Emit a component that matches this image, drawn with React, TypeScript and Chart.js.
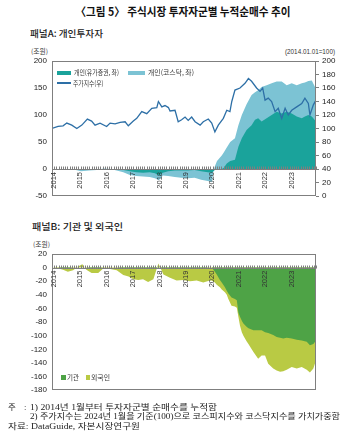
import React, { useEffect, useRef } from 'react';
import { Chart, registerables } from 'chart.js';

Chart.register(...registerables);

// ---------------- DATA ----------------
// Panel A: individual investors, cumulative net purchase (조원)
const aDates = [2014.0, 2014.3, 2014.6, 2014.9, 2015.1, 2015.4, 2015.7, 2015.95, 2016.2, 2016.45, 2016.7, 2016.95, 2017.2, 2017.45, 2017.7, 2017.9, 2018.05, 2018.2, 2018.4, 2018.65, 2018.9, 2019.15, 2019.4, 2019.65, 2019.9, 2020.06, 2020.11, 2020.17, 2020.25, 2020.43, 2020.5, 2020.62, 2020.75, 2020.93, 2021.06, 2021.19, 2021.37, 2021.56, 2021.69, 2021.81, 2021.94, 2022.13, 2022.32, 2022.51, 2022.7, 2022.89, 2023.08, 2023.27, 2023.46, 2023.58, 2023.71, 2023.84, 2024.0];
const indivKospi = [0, 0, -1, -1, -1, -1, -1, 0, 0, -1, -2, -4, -6, -7, -6, -8, -12, -7, -4, -3, -3, -3, -2, -4, -6, -7, -4, -2, -1, 0, 2, 10, 15, 17, 41, 57, 72, 81, 91, 94, 88, 94, 100, 106, 103, 106, 103, 97, 94, 97, 100, 97, 88];
const indivKosdaq = [0, -1, 0, -1, -3, -2, -1, 1, 0, -2, -4, -7, -7, -7, -9, -9, -9, -5, -9, -12, -13, -14, -14, -16, -16, -17, -1, 7, 16, 25, 28, 30, 35, 40, 40, 43, 48, 56, 51, 52, 64, 61, 59, 56, 59, 49, 56, 58, 65, 63, 63, 67, 60];

// Stock index (2014.01.01 = 100), right axis
const idxDates = [2014.0, 2014.23, 2014.42, 2014.56, 2014.75, 2014.94, 2015.13, 2015.34, 2015.5, 2015.63, 2015.82, 2016.07, 2016.2, 2016.39, 2016.58, 2016.77, 2016.89, 2017.08, 2017.21, 2017.4, 2017.59, 2017.78, 2017.97, 2018.03, 2018.16, 2018.28, 2018.41, 2018.47, 2018.66, 2018.78, 2018.91, 2019.04, 2019.16, 2019.29, 2019.42, 2019.61, 2019.73, 2019.92, 2020.05, 2020.17, 2020.3, 2020.49, 2020.62, 2020.74, 2020.81, 2020.93, 2021.12, 2021.31, 2021.44, 2021.56, 2021.75, 2021.88, 2021.98, 2022.07, 2022.19, 2022.32, 2022.45, 2022.57, 2022.7, 2022.83, 2022.95, 2023.08, 2023.27, 2023.46, 2023.58, 2023.71, 2023.77, 2023.9, 2024.0];
const idxValues = [100, 103, 104, 108, 105, 100, 105, 114, 111, 105, 108, 103, 108, 107, 109, 110, 104, 111, 115, 125, 122, 130, 131, 140, 132, 134, 131, 126, 127, 110, 113, 117, 112, 117, 110, 105, 110, 114, 108, 95, 105, 115, 127, 125, 140, 157, 160, 167, 174, 170, 160, 155, 160, 142, 145, 140, 125, 130, 115, 130, 120, 127, 132, 137, 145, 137, 120, 135, 142];

// Panel B: institutions and foreigners, cumulative net purchase (조원)
const bDates = [2014.0, 2014.2, 2014.42, 2014.6, 2014.8, 2015.0, 2015.15, 2015.3, 2015.5, 2015.75, 2015.95, 2016.2, 2016.45, 2016.7, 2016.9, 2017.08, 2017.27, 2017.45, 2017.64, 2017.84, 2018.03, 2018.22, 2018.47, 2018.72, 2018.97, 2019.23, 2019.48, 2019.73, 2019.98, 2020.05, 2020.17, 2020.24, 2020.36, 2020.43, 2020.55, 2020.62, 2020.68, 2020.8, 2020.93, 2021.0, 2021.06, 2021.12, 2021.19, 2021.25, 2021.37, 2021.44, 2021.63, 2021.81, 2021.94, 2022.07, 2022.19, 2022.38, 2022.51, 2022.64, 2022.76, 2022.89, 2023.08, 2023.27, 2023.46, 2023.65, 2023.77, 2023.9, 2024.0];
const institution = [0, 0, -1, -1, 0, 0, 0, 0, -1, -1, 0, 0, 0, -1, -1, -1, -2, -2, -2, -2, 0, -1, -1, -2, -2, -2, -1, -1, 0, 0, -6, -10, -18, -22, -29, -34, -38, -44, -46, -48, -66, -72, -78, -82, -87, -89, -92, -92, -92, -95, -96, -99, -102, -103, -104, -103, -104, -106, -107, -109, -114, -112, -107];
const foreigner = [0, -1, -2, -5, -4, 2, 5, -3, -7, -7, -1, -2, -4, -10, -12, -16, -16, -15, -19, -15, 6, -9, -14, -17, -16, -18, -18, -21, -19, -19, -16, -15, -11, -10, -7, -6, -8, -12, -11, -11, -6, -13, -17, -18, -21, -23, -32, -42, -37, -34, -45, -49, -49, -50, -48, -47, -42, -42, -39, -41, -40, -36, -29];

const yearMin = 2014;
const yearMax = 2024;

// ---------------- STYLE ----------------
const KR = '"Noto Sans CJK KR", sans-serif';
const AX = '"Liberation Sans", "Noto Sans CJK KR", sans-serif';
const NOTE = '"Liberation Serif", "Noto Sans CJK KR", serif';
const C_KOSPI = '#1aa39b';
const C_KOSDAQ = '#7cc3d4';
const C_INDEX = '#2d6fa6';
const C_INST = '#4ea346';
const C_FOR = '#b9ca44';
const C_FRAME = '#7f7f7f';

const pts = (xs: number[], ys: number[]) => xs.map((x, i) => ({ x, y: ys[i] }));

const framePlugin = {
  id: 'frame',
  afterDatasetsDraw(chart: any) {
    const { ctx, chartArea: a, scales } = chart;
    const y0 = Math.round(scales.y.getPixelForValue(0)) + 0.5;
    ctx.save();
    ctx.strokeStyle = C_FRAME;
    ctx.lineWidth = 1;
    ctx.beginPath();
    ctx.moveTo(a.left, y0);
    ctx.lineTo(a.right, y0);
    for (let m = 0; m <= (yearMax - yearMin) * 12; m++) {
      const x = Math.round(scales.x.getPixelForValue(yearMin + m / 12)) + 0.5;
      ctx.moveTo(x, y0);
      ctx.lineTo(x, y0 - 3);
    }
    ctx.stroke();
    ctx.strokeRect(Math.round(a.left) + 0.5, Math.round(a.top) + 0.5, Math.round(a.width) - 1, Math.round(a.height) - 1);
    ctx.restore();
  },
};

const xAxis = () => ({
  type: 'linear',
  min: yearMin,
  max: yearMax,
  position: { y: 0 },
  afterFit: (s: any) => { s.height = 0; },
  grid: { display: false, drawTicks: false },
  border: { display: false },
  ticks: {
    stepSize: 1,
    autoSkip: false,
    minRotation: 90,
    maxRotation: 90,
    padding: 3,
    labelOffset: 2,
    z: 1,
    color: '#333',
    font: { family: AX, size: 7.5 },
    callback: (v: number) => (v < yearMax ? String(v) : ''),
  },
});

const leftAxis = (min: number, max: number, step: number) => ({
  position: 'left',
  min,
  max,
  afterFit: (s: any) => { s.width = 52; },
  grid: { display: false, drawTicks: false },
  border: { display: false },
  ticks: { stepSize: step, padding: 5, color: '#222', font: { family: AX, size: 8 } },
});

// ---------------- TEXT HELPERS ----------------
let mctx: CanvasRenderingContext2D | null = null;
function measure(text: string, font: string) {
  if (!mctx) mctx = document.createElement('canvas').getContext('2d');
  mctx!.font = font;
  return mctx!.measureText(text).width;
}

function Txt(p: { x: number; y: number; text: string; size: number; family: string; weight?: number; width?: number; align?: 'left' | 'center' | 'right'; color?: string }) {
  const weight = p.weight || 400;
  const align = p.align || 'left';
  let sx = 1;
  if (p.width) {
    const w = measure(p.text, `${weight} ${p.size}px ${p.family}`);
    if (w > 0) sx = p.width / w;
  }
  const tr = align === 'left' ? '' : align === 'center' ? 'translateX(-50%) ' : 'translateX(-100%) ';
  return (
    <div
      style={{
        position: 'absolute',
        left: p.x,
        top: p.y - p.size / 2,
        fontFamily: p.family,
        fontSize: p.size,
        fontWeight: weight,
        lineHeight: `${p.size}px`,
        whiteSpace: 'nowrap',
        color: p.color || '#222',
        transform: `${tr}scaleX(${sx})`,
        transformOrigin: align === 'left' ? 'left center' : align === 'center' ? 'center center' : 'right center',
      }}
    >
      {p.text}
    </div>
  );
}

function Box(p: { x: number; y: number; w: number; h: number; c: string }) {
  return <div style={{ position: 'absolute', left: p.x, top: p.y, width: p.w, height: p.h, background: p.c }} />;
}

// ---------------- APP ----------------
export default function App() {
  const refA = useRef<HTMLCanvasElement>(null);
  const refB = useRef<HTMLCanvasElement>(null);

  useEffect(() => {
    const totalA = indivKospi.map((v, i) => v + indivKosdaq[i]);
    const chartA = new Chart(refA.current!, {
      type: 'line',
      data: {
        datasets: [
          { label: '주가지수(우)', data: pts(idxDates, idxValues), yAxisID: 'y1', borderColor: C_INDEX, borderWidth: 1.3, pointRadius: 0, fill: false, tension: 0 },
          { label: '개인(유가증권, 좌)', data: pts(aDates, indivKospi), yAxisID: 'y', backgroundColor: C_KOSPI, borderWidth: 0, pointRadius: 0, fill: 'origin' },
          { label: '개인(코스닥, 좌)', data: pts(aDates, totalA), yAxisID: 'y', backgroundColor: C_KOSDAQ, borderWidth: 0, pointRadius: 0, fill: 'origin' },
        ],
      } as any,
      options: {
        responsive: false,
        animation: false,
        events: [],
        layout: { padding: { top: 21, bottom: 14, left: 0, right: 0 } },
        plugins: { legend: { display: false }, tooltip: { enabled: false } },
        scales: {
          x: xAxis(),
          y: leftAxis(-50, 200, 50),
          y1: {
            position: 'right',
            min: 0,
            max: 200,
            afterFit: (s: any) => { s.width = 31; },
            grid: { display: true, drawOnChartArea: false, tickLength: 3, color: C_FRAME },
            border: { display: false },
            ticks: { stepSize: 20, padding: 3, color: '#222', font: { family: AX, size: 8 } },
          },
        },
      } as any,
      plugins: [framePlugin],
    });

    const totalB = institution.map((v, i) => v + foreigner[i]);
    const chartB = new Chart(refB.current!, {
      type: 'line',
      data: {
        datasets: [
          { label: '기관', data: pts(bDates, institution), backgroundColor: C_INST, borderWidth: 0, pointRadius: 0, fill: 'origin' },
          { label: '외국인', data: pts(bDates, totalB), backgroundColor: C_FOR, borderWidth: 0, pointRadius: 0, fill: 'origin' },
        ],
      } as any,
      options: {
        responsive: false,
        animation: false,
        events: [],
        layout: { padding: { top: 14, bottom: 9, left: 0, right: 31 } },
        plugins: { legend: { display: false }, tooltip: { enabled: false } },
        scales: {
          x: xAxis(),
          y: leftAxis(-180, 20, 20),
        },
      } as any,
      plugins: [framePlugin],
    });

    return () => {
      chartA.destroy();
      chartB.destroy();
    };
  }, []);

  return (
    <div style={{ position: 'absolute', left: 0, top: 0, width: 347, height: 446, background: '#fff', overflow: 'hidden' }}>
      <Txt x={182.5} y={12} text="〈그림 5〉 주식시장 투자자군별 누적순매수 추이" size={11.5} family={KR} weight={700} width={215} align="center" color="#111" />
      <Txt x={30} y={33.5} text="패널A: 개인투자자" size={9.5} family={KR} weight={500} width={73} />
      <Txt x={31} y={51} text="(조원)" size={6.5} family={KR} width={17} color="#333" />
      <Txt x={335} y={51} text="(2014.01.01=100)" size={7} family={AX} width={50} align="right" color="#333" />

      <canvas ref={refA} width={347} height={170} style={{ position: 'absolute', left: 0, top: 40 }} />

      <Box x={57} y={70.5} w={14} h={4} c={C_KOSPI} />
      <Txt x={73.5} y={72.5} text="개인(유가증권, 좌)" size={7} family={KR} width={45} color="#333" />
      <Box x={128} y={70.5} w={17} h={4} c={C_KOSDAQ} />
      <Txt x={148} y={72.5} text="개인(코스닥, 좌)" size={7} family={KR} width={46} color="#333" />
      <Box x={57} y={82.4} w={14} h={1.3} c={C_INDEX} />
      <Txt x={73} y={83} text="주가지수(우)" size={7} family={KR} width={30.5} color="#333" />

      <Txt x={32} y={227} text="패널B: 기관 및 외국인" size={9.5} family={KR} weight={500} width={91} />
      <Txt x={33} y={244} text="(조원)" size={6.5} family={KR} width={17} color="#333" />

      <canvas ref={refB} width={347} height={160} style={{ position: 'absolute', left: 0, top: 240 }} />

      <Box x={61} y={375} w={4.5} h={4.5} c={C_INST} />
      <Txt x={66.5} y={377.3} text="기관" size={7} family={KR} width={12} color="#333" />
      <Box x={85.5} y={375} w={4.5} h={4.5} c={C_FOR} />
      <Txt x={91} y={377.3} text="외국인" size={7} family={KR} width={19} color="#333" />

      <Txt x={8} y={407} text="주" size={8.5} family={NOTE} />
      <Txt x={24} y={407} text=":" size={8.5} family={NOTE} />
      <Txt x={30} y={407} text="1) 2014년 1월부터 투자자군별 순매수를 누적함" size={8.5} family={NOTE} width={187} />
      <Txt x={30} y={416.5} text="2) 주가지수는 2024년 1월을 기준(100)으로 코스피지수와 코스닥지수를 가치가중함" size={8.5} family={NOTE} width={310} />
      <Txt x={8} y={426} text="자료: DataGuide, 자본시장연구원" size={8.5} family={NOTE} width={132} />
    </div>
  );
}
